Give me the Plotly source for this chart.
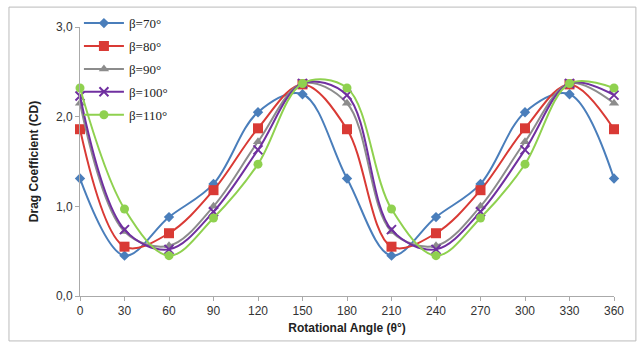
import plotly.graph_objects as go

angles = [0, 30, 60, 90, 120, 150, 180, 210, 240, 270, 300, 330, 360]
cd_b70 = [1.31, 0.45, 0.88, 1.25, 2.05, 2.25, 1.31, 0.45, 0.88, 1.25, 2.05, 2.25, 1.31]
cd_b80 = [1.86, 0.55, 0.70, 1.18, 1.87, 2.36, 1.86, 0.55, 0.70, 1.18, 1.87, 2.36, 1.86]
cd_b90 = [2.15, 0.72, 0.56, 1.00, 1.72, 2.37, 2.15, 0.72, 0.56, 1.00, 1.72, 2.37, 2.15]
cd_b100 = [2.23, 0.74, 0.52, 0.94, 1.63, 2.37, 2.24, 0.74, 0.52, 0.94, 1.63, 2.37, 2.24]
cd_b110 = [2.32, 0.97, 0.45, 0.87, 1.47, 2.37, 2.32, 0.97, 0.45, 0.87, 1.47, 2.37, 2.32]

series_names = ["β=70°", "β=80°", "β=90°", "β=100°", "β=110°"]
x_ticks = [0, 30, 60, 90, 120, 150, 180, 210, 240, 270, 300, 330, 360]
y_ticks = [0, 1, 2, 3]
y_ticktext = ["0,0", "1,0", "2,0", "3,0"]

colors = ["#4A7EBB", "#D93A35", "#8C8C8C", "#7030A0", "#8FD14F"]
symbols = ["diamond", "square", "triangle-up", "x-thin", "circle"]
sizes = [8, 10, 9, 9, 9]

fig = go.Figure()
for i, (name, ys, c, s, sz) in enumerate(zip(series_names, [cd_b70, cd_b80, cd_b90, cd_b100, cd_b110], colors, symbols, sizes)):
    marker = dict(symbol=s, size=sz, color=c)
    if s == "x-thin":
        marker["line"] = dict(color=c, width=2)
    fig.add_trace(go.Scatter(
        x=angles, y=ys, name=name, mode="lines+markers", legendgroup=f"g{i}",
        line=dict(color=c, width=2, shape="spline", smoothing=1.0),
        marker=marker, cliponaxis=False,
    ))

fig.update_layout(
    width=644, height=347,
    margin=dict(l=80, r=30, t=27, b=51, autoexpand=False),
    paper_bgcolor="white", plot_bgcolor="white",
    showlegend=True,
    legend=dict(x=-0.002, y=1.07, xanchor="left", yanchor="top",
                bgcolor="rgba(255,255,255,0)",
                font=dict(family="Liberation Serif", size=13, color="#222"),
                tracegroupgap=3, itemwidth=40),
    font=dict(family="Liberation Sans", size=12, color="#333"),
    shapes=[dict(type="rect", xref="paper", yref="paper",
                 x0=-0.133, x1=1.041, y0=-0.167, y1=1.074,
                 line=dict(color="#BBBBBB", width=1))],
)
fig.update_xaxes(range=[0, 360], tickvals=x_ticks, showgrid=False, zeroline=False,
                 showline=True, linecolor="#AAAAAA", linewidth=1,
                 ticks="outside", ticklen=4, tickcolor="#AAAAAA",
                 tickfont=dict(size=12, color="#333"),
                 title=dict(text="<b>Rotational Angle (θ°)</b>", font=dict(size=12, color="#222"), standoff=6))
fig.update_yaxes(range=[0, 3], tickvals=y_ticks, ticktext=y_ticktext, showgrid=False, zeroline=False,
                 showline=True, linecolor="#AAAAAA", linewidth=1,
                 ticks="outside", ticklen=4, tickcolor="#AAAAAA",
                 tickfont=dict(size=12, color="#333"),
                 title=dict(text="<b>Drag Coefficient (CD)</b>", font=dict(size=12, color="#222"), standoff=14))

fig.write_html("out.html", config={"displayModeBar": False},
               post_script="document.body.style.margin='0';")
